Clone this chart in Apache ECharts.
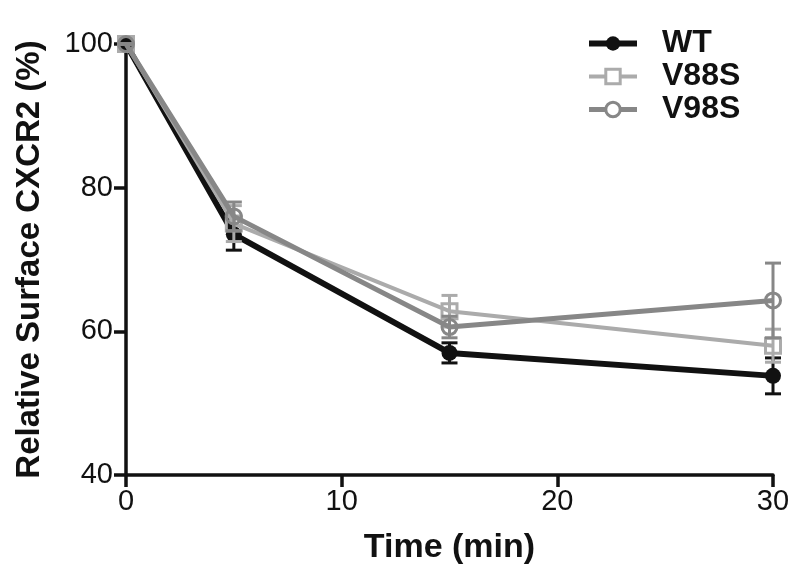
<!DOCTYPE html>
<html>
<head>
<meta charset="utf-8">
<script src="https://cdn.jsdelivr.net/npm/echarts@6/dist/echarts.min.js"></script>
<style>html,body{margin:0;padding:0;background:#fff}#c{width:800px;height:583px}</style>
</head>
<body>
<div id="c"></div>
<script>
const times = [0, 5, 15, 30];
const seriesNames = ['WT', 'V88S', 'V98S'];
const wt = [100, 73.5, 57.0, 53.8];
const wtErr = [0, 2.2, 1.4, 2.5];
const v88s = [100, 75.0, 62.8, 58.0];
const v88sErr = [0, 2.5, 2.2, 2.3];
const v98s = [100, 76.0, 60.6, 64.3];
const v98sErr = [0, 2.0, 1.5, 5.2];
const xTicks = [0, 10, 20, 30];
const yTicks = [40, 60, 80, 100];

const FONT = 'Liberation Sans, Arial, sans-serif';
const colors = ['#111111', '#ababab', '#878787'];
const widths = [6, 4, 5];

function errData(vals, errs) {
  return times.map((t, i) => [t, vals[i] - errs[i], vals[i] + errs[i]]);
}
function errSeries(name, vals, errs, color, z) {
  return {
    type: 'custom', name: name + ' error', z: z, silent: true,
    data: errData(vals, errs),
    renderItem: function (params, api) {
      const lo = api.coord([api.value(0), api.value(1)]);
      const hi = api.coord([api.value(0), api.value(2)]);
      const hw = 8;
      const st = { stroke: color, lineWidth: 3 };
      return {
        type: 'group', children: [
          { type: 'line', shape: { x1: lo[0], y1: lo[1], x2: hi[0], y2: hi[1] }, style: st },
          { type: 'line', shape: { x1: lo[0] - hw, y1: lo[1], x2: lo[0] + hw, y2: lo[1] }, style: st },
          { type: 'line', shape: { x1: hi[0] - hw, y1: hi[1], x2: hi[0] + hw, y2: hi[1] }, style: st }
        ]
      };
    }
  };
}
function lineSeries(name, vals, idx, symbol, filled, z) {
  return {
    type: 'line', name: name, z: z,
    data: times.map((t, i) => [t, vals[i]]),
    symbol: symbol, symbolSize: filled ? 16 : 15,
    lineStyle: { color: colors[idx], width: widths[idx] },
    itemStyle: filled ? { color: colors[idx] } : { color: 'rgba(255,255,255,0)', borderColor: colors[idx], borderWidth: 3 },
    emphasis: { disabled: true }
  };
}

const chart = echarts.init(document.getElementById('c'), null, { renderer: 'canvas' });
chart.setOption({
  animation: false,
  backgroundColor: '#fff',
  grid: { left: 126, right: 27, top: 44, bottom: 108, outerBoundsMode: 'none', containLabel: false },
  legend: {
    orient: 'vertical', left: 581, top: 22, itemGap: 0,
    itemWidth: 48, itemHeight: 18,
    data: seriesNames.map((n, i) => ({
      name: n,
      lineStyle: { color: colors[i], width: widths[i] },
      itemStyle: i === 0 ? { color: colors[0] } : { color: '#fff', borderColor: colors[i], borderWidth: 3 }
    })),
    textStyle: { fontFamily: FONT, fontWeight: 'bold', fontSize: 32, color: '#111', lineHeight: 33, padding: [0, 0, 0, 20] }
  },
  xAxis: {
    type: 'value', min: 0, max: 30, interval: 10,
    name: 'Time (min)', nameLocation: 'middle', nameGap: 56,
    nameTextStyle: { fontFamily: FONT, fontWeight: 'bold', fontSize: 34, color: '#111' },
    axisLine: { show: true, onZero: false, lineStyle: { color: '#111', width: 3.5 } },
    axisTick: { show: true, length: 12, lineStyle: { color: '#111', width: 3.5 } },
    axisLabel: { fontFamily: FONT, fontSize: 29, color: '#111', margin: 12,
      formatter: v => xTicks.includes(v) ? String(v) : '' },
    splitLine: { show: false }
  },
  yAxis: {
    type: 'value', min: 40, max: 100, interval: 20,
    name: 'Relative Surface CXCR2 (%)', nameLocation: 'middle', nameGap: 80,
    nameTextStyle: { fontFamily: FONT, fontWeight: 'bold', fontSize: 33, color: '#111' },
    axisLine: { show: true, onZero: false, lineStyle: { color: '#111', width: 3.5 } },
    axisTick: { show: true, length: 12, lineStyle: { color: '#111', width: 3.5 } },
    axisLabel: { fontFamily: FONT, fontSize: 29, color: '#111', margin: 13,
      formatter: v => yTicks.includes(v) ? String(v) : '' },
    splitLine: { show: false }
  },
  series: [
    errSeries('WT', wt, wtErr, colors[0], 2),
    lineSeries('WT', wt, 0, 'circle', true, 2),
    errSeries('V88S', v88s, v88sErr, colors[1], 3),
    lineSeries('V88S', v88s, 1, 'rect', false, 3),
    errSeries('V98S', v98s, v98sErr, colors[2], 4),
    lineSeries('V98S', v98s, 2, 'circle', false, 4)
  ]
});
</script>
</body>
</html>
